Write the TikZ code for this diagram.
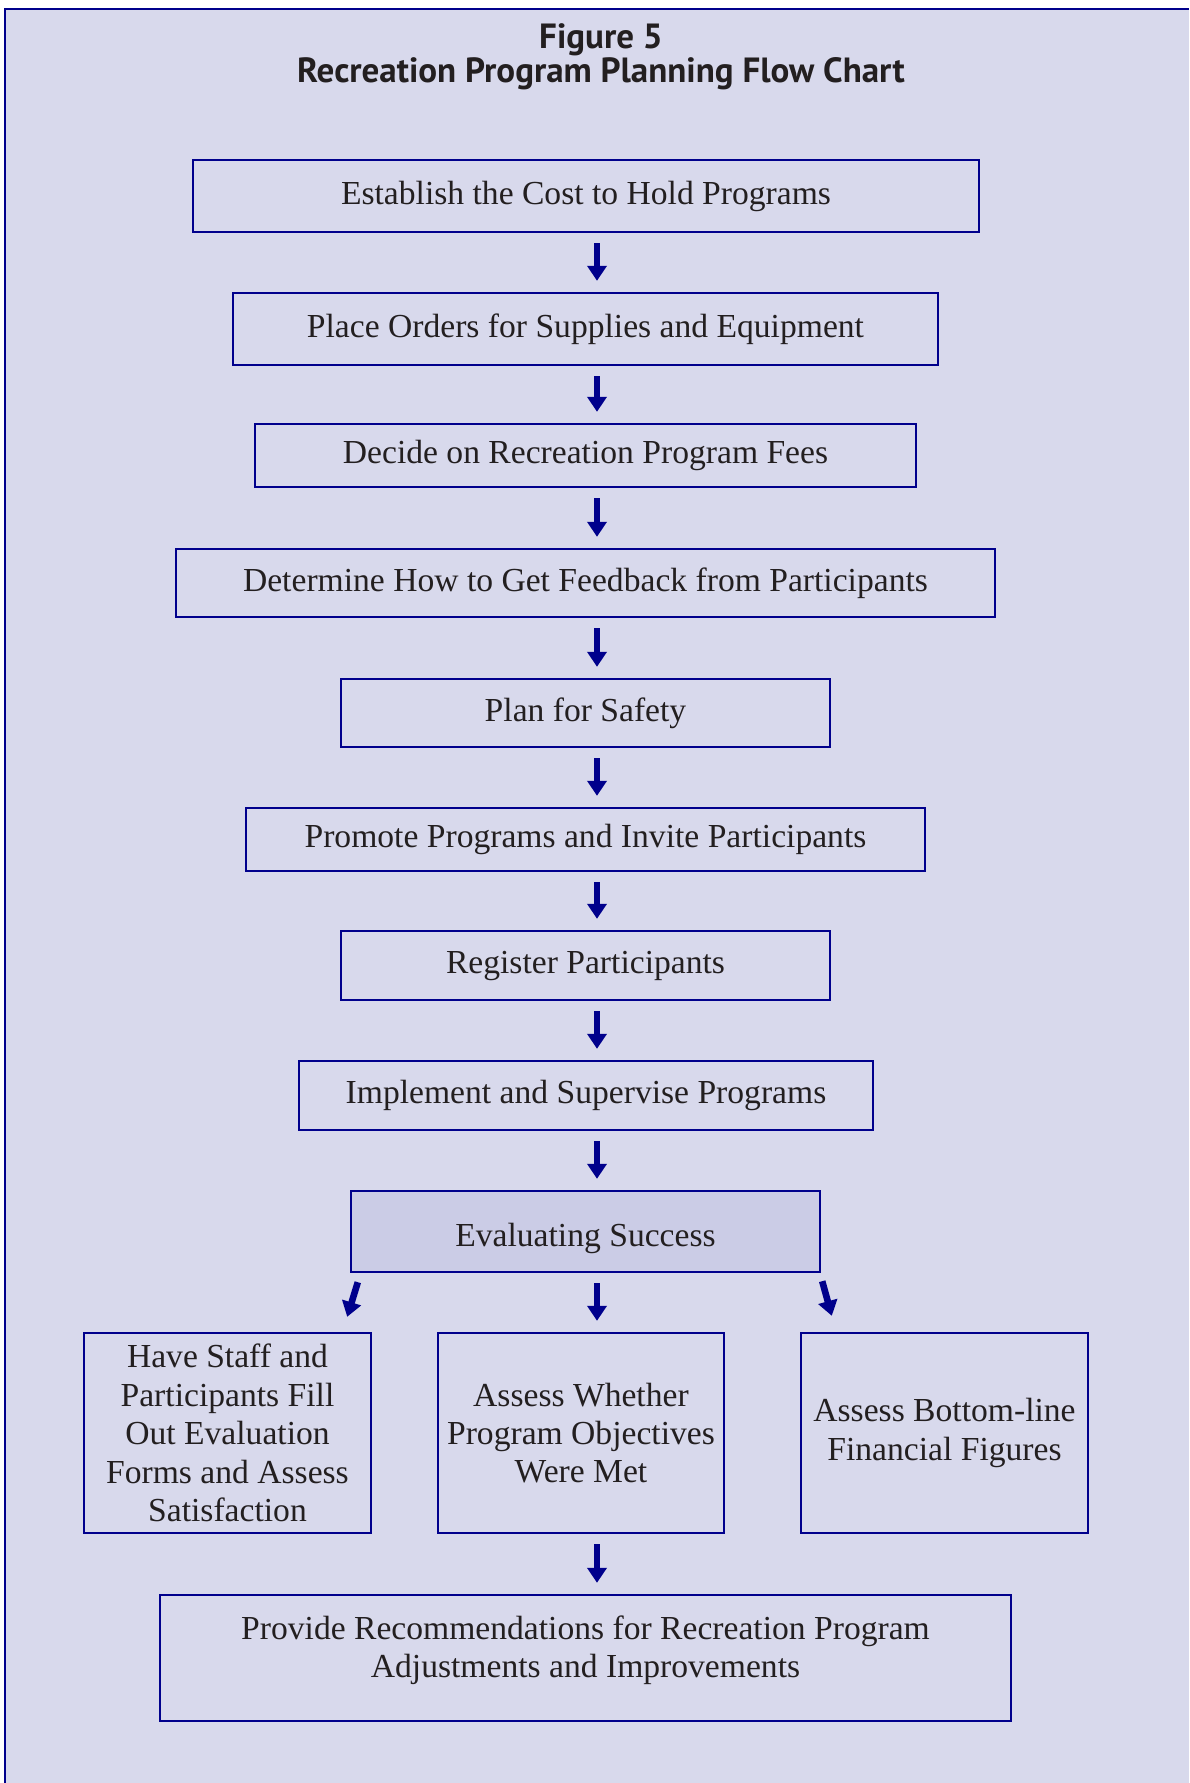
\documentclass[tikz,border=0pt]{standalone}
\usepackage{fontspec}
\setmainfont{Liberation Serif}
\newfontfamily\titlefont{PT Sans}
\usetikzlibrary{arrows.meta}

\definecolor{pagebg}{RGB}{216,217,236}
\definecolor{evalbg}{RGB}{203,204,230}
\definecolor{chartblue}{RGB}{0,0,140}
\definecolor{inkgray}{RGB}{35,31,32}

\begin{document}
\begin{tikzpicture}[x=0.5pt,y=-0.5pt]
\tikzstyle{stepbox}=[draw=chartblue,line width=1.2pt,inner sep=2pt,align=center,text=inkgray,font=\fontsize{16.8}{19.2}\selectfont]
\tikzstyle{flow}=[draw=chartblue,line width=3.3pt,-{Triangle[width=9.5pt,length=7.5pt]},shorten <=5pt,shorten >=5.5pt]
\useasboundingbox (0,0) rectangle (1189,1783);
\fill[pagebg] (5,9) rectangle (1189,1783);
\draw[chartblue,line width=1.2pt] (5,1783) -- (5,9) -- (1189,9);

\node [align=center,text=inkgray,font=\titlefont\bfseries\fontsize{17.5}{17}\selectfont] (title) at (601,56.5)
  {Figure 5\\Recreation Program Planning Flow Chart};

\node [stepbox,minimum width=393pt,minimum height=36pt] (cost) at (586,196) {Establish the Cost to Hold Programs};
\node [stepbox,minimum width=352.5pt,minimum height=36pt] (ord) at (585.5,329) {Place Orders for Supplies and Equipment};
\node [stepbox,minimum width=330.5pt,minimum height=31.5pt] (fees) at (585.5,455.5) {Decide on Recreation Program Fees};
\node [stepbox,minimum width=409.5pt,minimum height=34pt] (fdbk) at (585.5,583) {Determine How to Get Feedback from Participants};
\node [stepbox,minimum width=244.5pt,minimum height=34pt] (safe) at (585.5,713) {Plan for Safety};
\node [stepbox,minimum width=339.5pt,minimum height=31.5pt] (prom) at (585.5,839.5) {Promote Programs and Invite Participants};
\node [stepbox,minimum width=244.5pt,minimum height=34.5pt] (reg) at (585.5,965.5) {Register Participants};
\node [stepbox,minimum width=287pt,minimum height=34.5pt] (impl) at (586,1095.5) {Implement and Supervise Programs};
\node [stepbox,fill=evalbg,minimum width=234.5pt,minimum height=40.5pt,text height=15pt,text depth=0pt] (eval) at (585.5,1231.5) {Evaluating Success};
\node [stepbox,minimum width=143.5pt,minimum height=100pt] (stf) at (227.5,1433)
  {Have Staff and\\Participants Fill\\Out Evaluation\\Forms and Assess\\Satisfaction};
\node [stepbox,minimum width=143pt,minimum height=100pt] (obj) at (581,1433)
  {Assess Whether\\Program Objectives\\Were Met};
\node [stepbox,minimum width=143.5pt,minimum height=100pt] (fin) at (944.5,1433)
  {Assess Bottom-line\\Financial Figures};
\node [stepbox,minimum width=425.5pt,minimum height=63pt] (rec) at (585.5,1658)
  {Provide Recommendations for Recreation Program\\Adjustments and Improvements\\[-8pt]\mbox{}};

\draw [flow] ([xshift=5.5pt]cost.south) -- ([xshift=5.75pt]ord.north);
\draw [flow] ([xshift=5.75pt]ord.south) -- ([xshift=5.75pt]fees.north);
\draw [flow] ([xshift=5.75pt]fees.south) -- ([xshift=5.75pt]fdbk.north);
\draw [flow] ([xshift=5.75pt]fdbk.south) -- ([xshift=5.75pt]safe.north);
\draw [flow] ([xshift=5.75pt]safe.south) -- ([xshift=5.75pt]prom.north);
\draw [flow] ([xshift=5.75pt]prom.south) -- ([xshift=5.75pt]reg.north);
\draw [flow] ([xshift=5.75pt]reg.south) -- ([xshift=5.5pt]impl.north);
\draw [flow] ([xshift=5.5pt]impl.south) -- ([xshift=5.75pt]eval.north);
\draw [flow,shorten <=0pt,shorten >=0pt] ([xshift=4pt,yshift=-4.5pt]eval.south west) -- ([xshift=-12.5pt,yshift=7.5pt]stf.north east);
\draw [flow] ([xshift=5.75pt]eval.south) -- ([xshift=8pt]obj.north);
\draw [flow,shorten <=0pt,shorten >=0pt] ([xshift=0.5pt,yshift=-4pt]eval.south east) -- ([xshift=16pt,yshift=8pt]fin.north west);
\draw [flow] ([xshift=8pt]obj.south) -- ([xshift=5.75pt]rec.north);
\end{tikzpicture}
\end{document}
